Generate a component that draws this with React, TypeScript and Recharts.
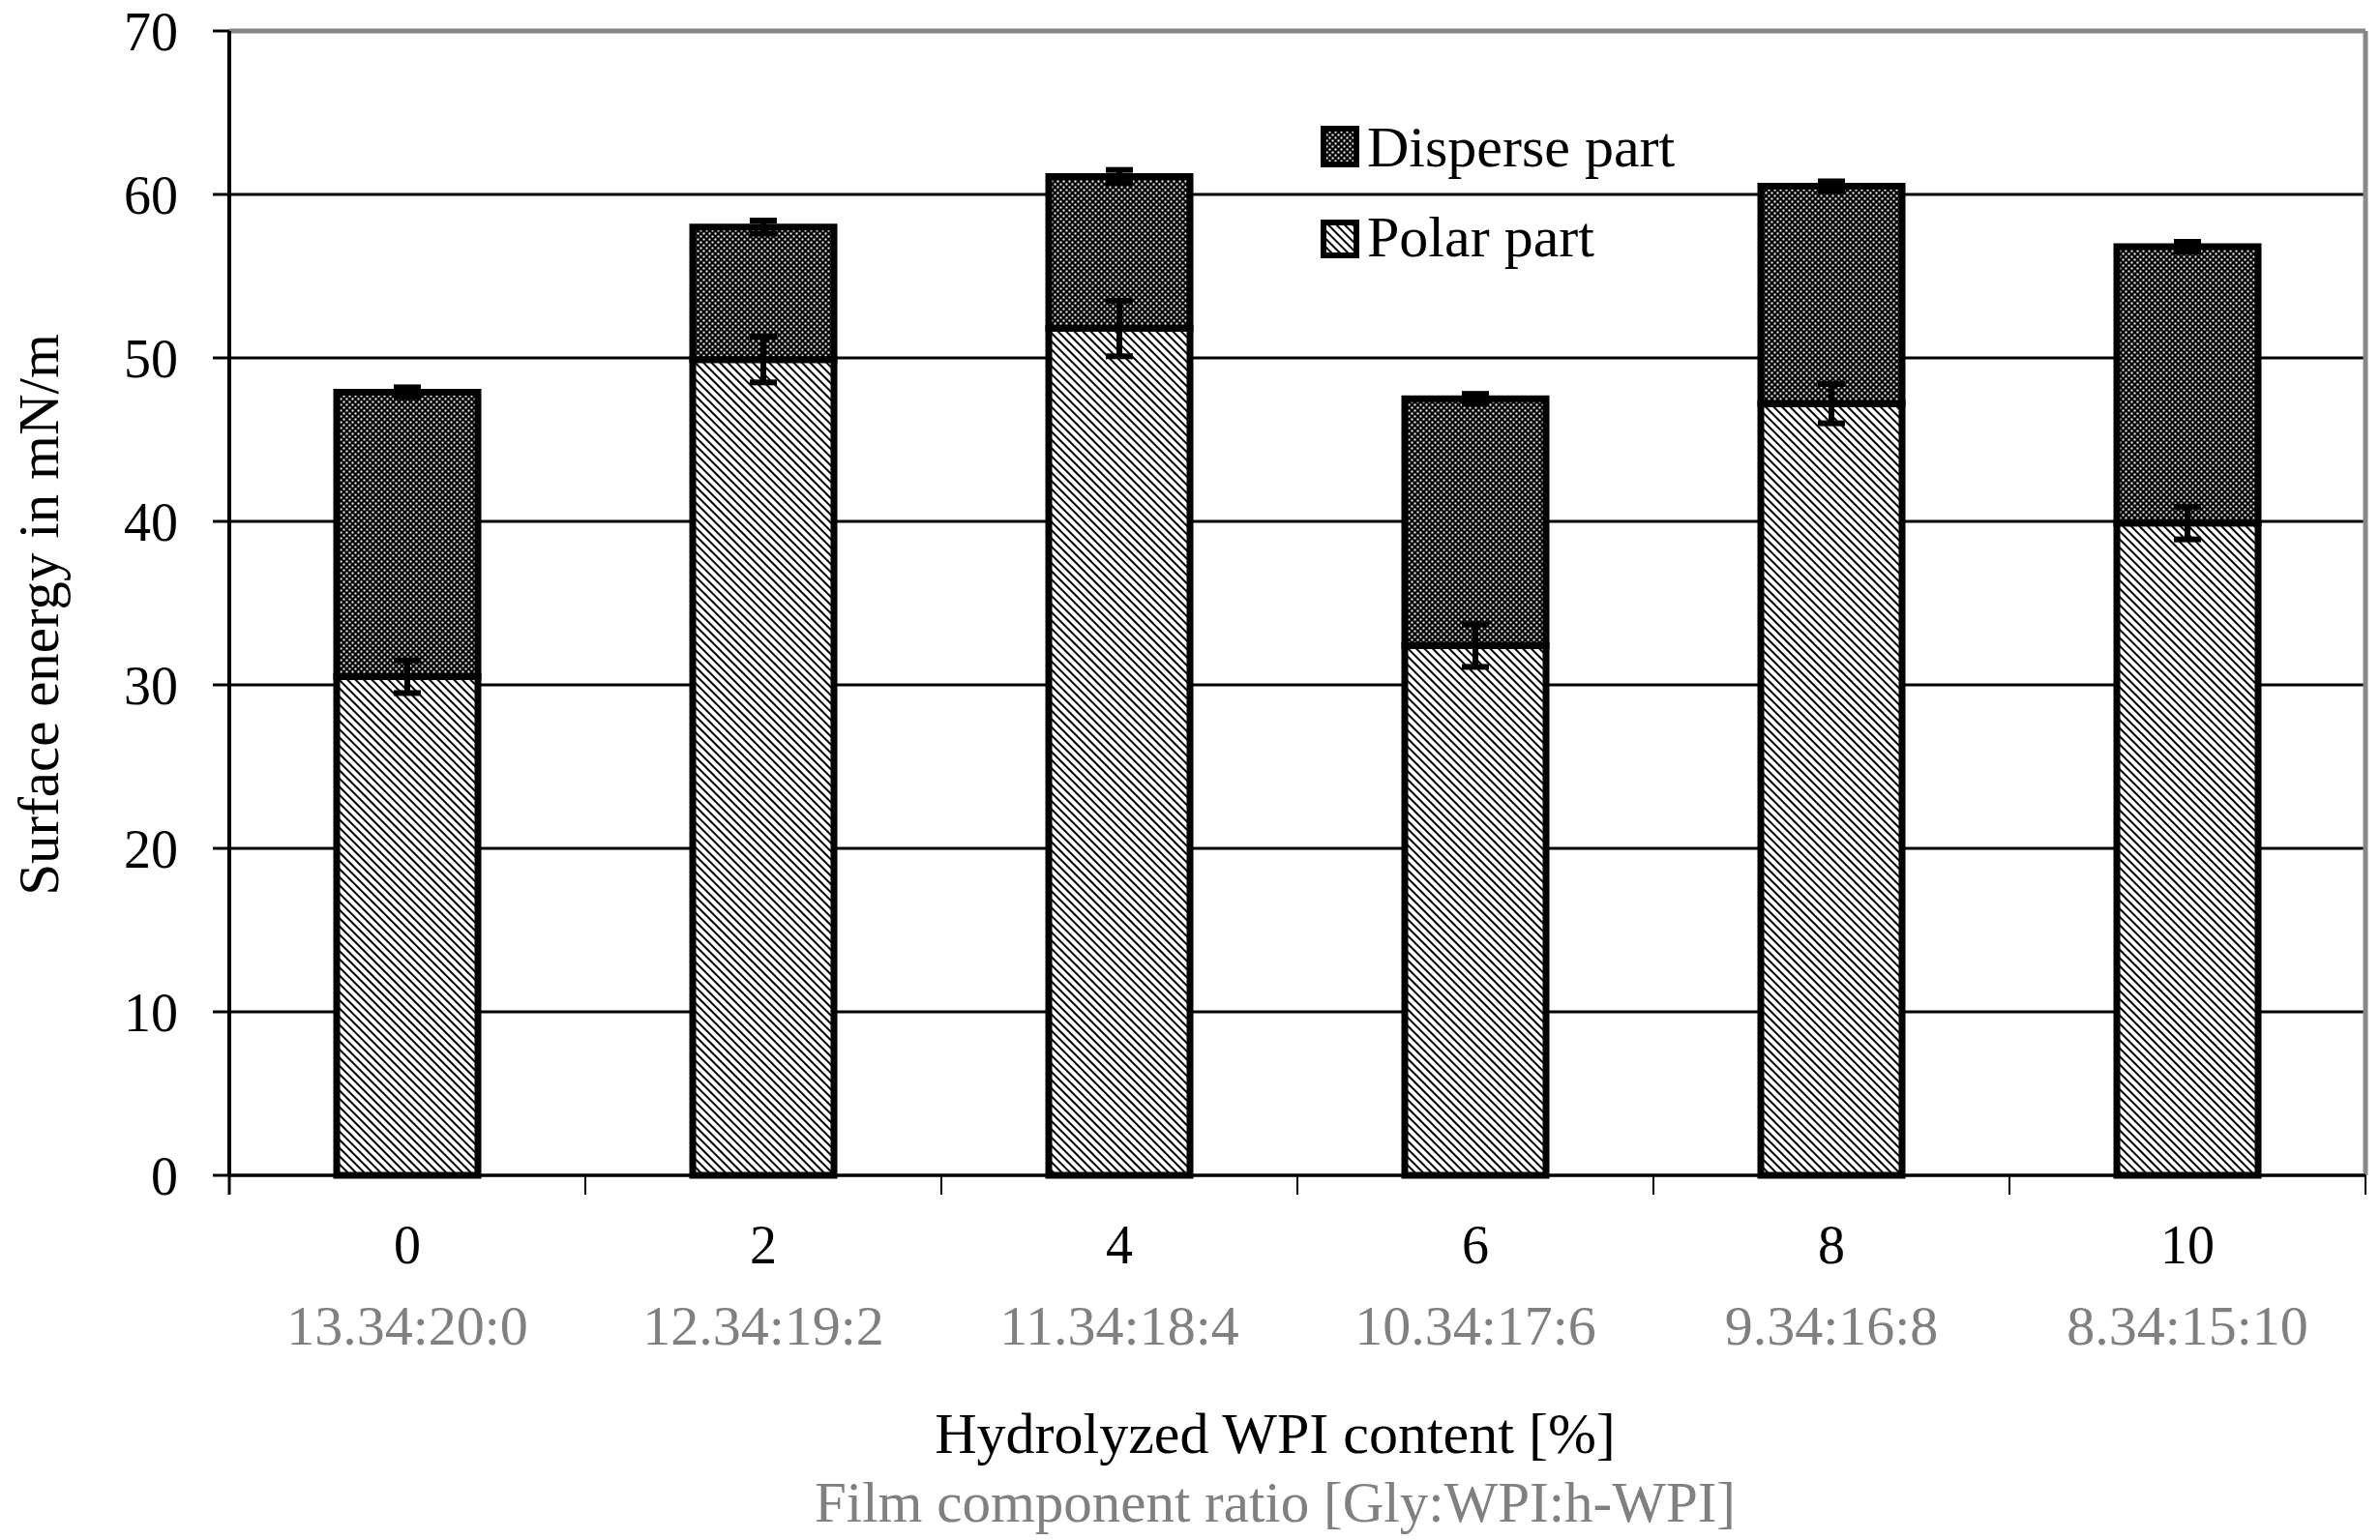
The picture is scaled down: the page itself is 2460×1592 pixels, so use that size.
import React from "react";
import { BarChart, Bar, XAxis, YAxis, CartesianGrid, ErrorBar, Legend, ReferenceLine } from "recharts";

const hwpiContent = ["0", "2", "4", "6", "8", "10"];
const componentRatio = ["13.34:20:0", "12.34:19:2", "11.34:18:4", "10.34:17:6", "9.34:16:8", "8.34:15:10"];
const polarPart = [30.5, 49.9, 51.8, 32.4, 47.2, 39.9];
const polarErr = [1.0, 1.4, 1.7, 1.3, 1.2, 1.0];
const dispersePart = [17.4, 8.1, 9.3, 15.1, 13.3, 16.9];
const totalErr = [0.3, 0.4, 0.4, 0.3, 0.3, 0.3];
const yTicks = [0, 10, 20, 30, 40, 50, 60, 70];

const FONT = '"Liberation Serif", "Times New Roman", serif';
const GREY = "#808080";

const data = hwpiContent.map((c, i) => ({
  content: c,
  ratio: componentRatio[i],
  polar: polarPart[i],
  polarErr: polarErr[i],
  disperse: dispersePart[i],
  totalErr: totalErr[i],
}));

// two stacked labels under each bar, plus the small tick marks that sit
// between categories (Excel style) rather than under the bars
function CategoryTick(props: any) {
  const { x, y, payload, index, width, visibleTicksCount } = props;
  const band = width / visibleTicksCount;
  return (
    <g>
      {index === 0 && (
        <line x1={x - band / 2} x2={x - band / 2} y1={y} y2={y + 20} stroke="#000" strokeWidth={3} />
      )}
      <line x1={x + band / 2} x2={x + band / 2} y1={y} y2={y + 20} stroke="#000" strokeWidth={2} />
      <text x={x} y={y + 91} textAnchor="middle" fontSize={56} fontFamily={FONT} fill="#000">
        {payload.value}
      </text>
      <text x={x} y={y + 175} textAnchor="middle" fontSize={58} fontFamily={FONT} fill={GREY}>
        {componentRatio[index]}
      </text>
    </g>
  );
}

function XTitle(props: any) {
  const { viewBox } = props;
  const cx = viewBox.x + viewBox.width / 2 - 23;
  const top = viewBox.y;
  return (
    <g>
      <text x={cx} y={top + 287} textAnchor="middle" fontSize={60} fontFamily={FONT} fill="#000">
        Hydrolyzed WPI content [%]
      </text>
      <text x={cx} y={top + 358} textAnchor="middle" fontSize={59} fontFamily={FONT} fill={GREY}>
        Film component ratio [Gly:WPI:h-WPI]
      </text>
    </g>
  );
}

function YTitle(props: any) {
  const { viewBox } = props;
  const bx = 60;
  const cy = viewBox.y + viewBox.height / 2 + 12;
  return (
    <text
      x={bx}
      y={cy}
      transform={`rotate(-90, ${bx}, ${cy})`}
      textAnchor="middle"
      fontSize={59}
      fontFamily={FONT}
      fill="#000"
    >
      Surface energy in mN/m
    </text>
  );
}

function PatternLegend() {
  const rows = [
    { label: "Disperse part", fill: "url(#dispersePat)", y: 13, h: 37, base: 52 },
    { label: "Polar part", fill: "url(#polarPat)", y: 110, h: 34, base: 145 },
  ];
  return (
    <svg width={420} height={170}>
      {rows.map((r) => (
        <g key={r.label}>
          <rect x={10} y={r.y} width={34} height={r.h} fill={r.fill} stroke="#000" strokeWidth={6} />
          <text x={55} y={r.base} fontSize={60} fontFamily={FONT} fill="#000">
            {r.label}
          </text>
        </g>
      ))}
    </svg>
  );
}

export default function App() {
  return (
    <div style={{ position: "absolute", left: 0, top: 0, width: 2460, height: 1592, background: "#fff" }}>
      <BarChart
        width={2460}
        height={1592}
        data={data}
        margin={{ top: 32, right: 15, bottom: 0, left: 0 }}
        barSize={146}
      >
        <defs>
          <pattern id="dispersePat" width="6" height="6" patternUnits="userSpaceOnUse">
            <rect width="6" height="6" fill="#000" />
            <rect x="0.5" y="0.5" width="2" height="2" fill="#fff" />
            <rect x="3.5" y="3.5" width="2" height="2" fill="#fff" />
          </pattern>
          <pattern id="polarPat" width="6" height="6" patternUnits="userSpaceOnUse" patternTransform="rotate(-45)">
            <rect width="6" height="6" fill="#fff" />
            <line x1="3" y1="0" x2="3" y2="6" stroke="#000" strokeWidth="2" />
          </pattern>
        </defs>
        <CartesianGrid vertical={false} stroke="#000" strokeWidth={3} />
        {/* grey frame on the right-hand side of the plot area */}
        <CartesianGrid
          horizontal={false}
          stroke="#888"
          strokeWidth={5}
          verticalCoordinatesGenerator={({ offset }: any) => [offset.left + offset.width]}
        />
        <XAxis
          dataKey="content"
          height={377}
          axisLine={{ stroke: "#000", strokeWidth: 3 }}
          tickLine={false}
          tickSize={0}
          tickMargin={0}
          tick={<CategoryTick />}
          interval={0}
          label={<XTitle />}
        />
        <YAxis
          type="number"
          domain={[0, 70]}
          ticks={yTicks}
          width={237}
          axisLine={{ stroke: "#000", strokeWidth: 4 }}
          tickLine={{ stroke: "#000", strokeWidth: 3 }}
          tickSize={17}
          tickMargin={36}
          tick={{ fontSize: 56, fontFamily: FONT, fill: "#000" }}
          label={<YTitle />}
        />
        <ReferenceLine y={70} stroke="#888" strokeWidth={5} />
        <Legend
          layout="horizontal"
          verticalAlign="middle"
          align="center"
          wrapperStyle={{ position: "absolute", left: 1358, top: 120, width: 420, height: 170 }}
          content={() => <PatternLegend />}
        />
        <Bar
          dataKey="polar"
          name="Polar part"
          stackId="s"
          fill="url(#polarPat)"
          stroke="#000"
          strokeWidth={7}
          isAnimationActive={false}
        >
          <ErrorBar dataKey="polarErr" width={14} strokeWidth={6} stroke="#000" direction="y" />
        </Bar>
        <Bar
          dataKey="disperse"
          name="Disperse part"
          stackId="s"
          fill="url(#dispersePat)"
          stroke="#000"
          strokeWidth={7}
          isAnimationActive={false}
        >
          <ErrorBar dataKey="totalErr" width={14} strokeWidth={6} stroke="#000" direction="y" />
        </Bar>
      </BarChart>
    </div>
  );
}
